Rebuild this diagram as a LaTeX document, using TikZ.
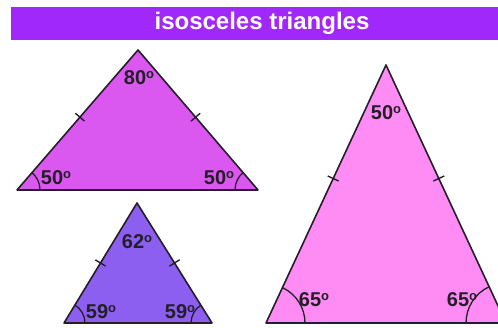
\documentclass[tikz,border=0pt]{standalone}
\usepackage{fontspec}
\setmainfont{Liberation Sans}
\usetikzlibrary{angles,calc}
\tikzset{
  titlebar/.style={fill=titlepurple, draw=none},
  titletext/.style={font=\bfseries\fontsize{24}{27}\selectfont, text=white},
  tri/.style={draw=edge, line width=1.6pt, line join=round},
  anglearc/.style={draw=edge, line width=1.3pt},
  anglelabel/.style={font=\bfseries\fontsize{20}{23}\selectfont, text=edge, inner sep=0pt},
  tickmark/.style={draw=edge, line width=1.4pt},
}
\definecolor{titlepurple}{RGB}{160,40,250}
\definecolor{edge}{RGB}{35,30,40}
\definecolor{triA}{RGB}{218,88,240}
\definecolor{triB}{RGB}{140,95,240}
\definecolor{triC}{RGB}{255,140,245}
\newcommand{\dg}[1]{#1\raisebox{0.62ex}{\fontsize{13}{13}\selectfont o}}

\begin{document}
\begin{tikzpicture}[x=1pt, y=-1pt]
\useasboundingbox (0,0) rectangle (498,328);
\clip (0,0) rectangle (498,328);
\fill[white] (0,0) rectangle (498,328);
% title
\fill[titlebar] (11,7) rectangle (498,40);
\node[titletext] (title) at (262,23) {isosceles triangles};
% triangle corners
\coordinate (a1) at (138,50);
\coordinate (b1) at (17,190);
\coordinate (c1) at (258,190);
\coordinate (a2) at (137,203);
\coordinate (b2) at (64,323);
\coordinate (c2) at (212,323);
\coordinate (a3) at (386,65);
\coordinate (b3) at (266,323);
\coordinate (c3) at (506,323);
% faces
\filldraw[tri, fill=triA] (a1) -- (b1) -- (c1) -- cycle;
\filldraw[tri, fill=triB] (a2) -- (b2) -- (c2) -- cycle;
\filldraw[tri, fill=triC] (a3) -- (b3) -- (c3) -- cycle;
% base angles
\pic[anglearc, angle radius=23pt] {angle = c1--b1--a1};
\pic[anglearc, angle radius=23pt] {angle = a1--c1--b1};
\pic[anglearc, angle radius=21pt] {angle = c2--b2--a2};
\pic[anglearc, angle radius=21pt] {angle = a2--c2--b2};
\pic[anglearc, angle radius=39pt] {angle = c3--b3--a3};
\pic[anglearc, angle radius=40pt] {angle = a3--c3--b3};
% equal sides
\foreach \t/\p in {1/0.48, 2/0.5, 3/0.44} {
  \coordinate (l\t) at ($(a\t)!\p!(b\t)$);
  \coordinate (r\t) at ($(a\t)!\p!(c\t)$);
  \draw[tickmark] ($(l\t)!6pt!90:(a\t)$) -- ($(l\t)!6pt!-90:(a\t)$);
  \draw[tickmark] ($(r\t)!6pt!90:(a\t)$) -- ($(r\t)!6pt!-90:(a\t)$);
}
% labels
\node[anglelabel] (top1) at (139,78) {\dg{80}};
\node[anglelabel] (left1) at (56,178) {\dg{50}};
\node[anglelabel] (right1) at (219,178) {\dg{50}};
\node[anglelabel] (top2) at (137,242) {\dg{62}};
\node[anglelabel] (left2) at (101,312) {\dg{59}};
\node[anglelabel] (right2) at (180,312) {\dg{59}};
\node[anglelabel] (top3) at (386,113) {\dg{50}};
\node[anglelabel] (left3) at (314,300) {\dg{65}};
\node[anglelabel] (right3) at (462,300) {\dg{65}};
\end{tikzpicture}
\end{document}
